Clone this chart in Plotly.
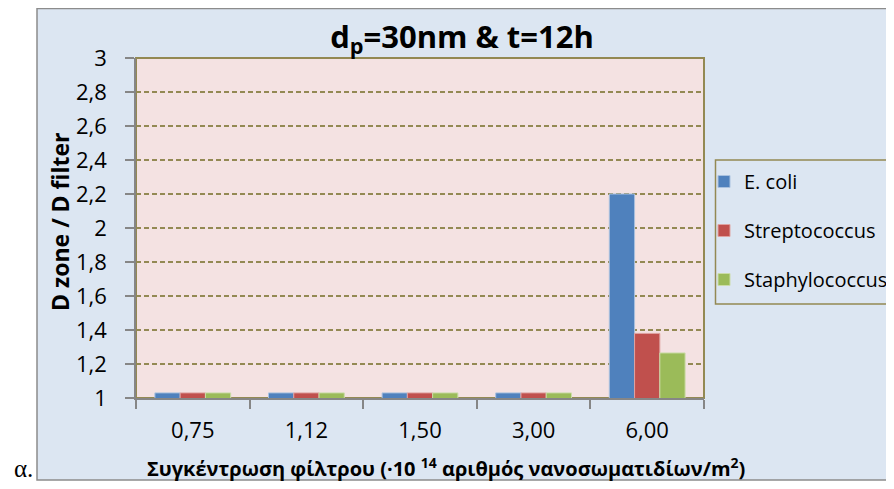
import plotly.graph_objects as go

categories = ["0,75", "1,12", "1,50", "3,00", "6,00"]
ecoli = [1.03, 1.03, 1.03, 1.03, 2.2]
strepto = [1.03, 1.03, 1.03, 1.03, 1.38]
staphylo = [1.03, 1.03, 1.03, 1.03, 1.265]
y_ticks = [1, 1.2, 1.4, 1.6, 1.8, 2, 2.2, 2.4, 2.6, 2.8, 3]

OFF = 8  # default body margin of the html page
W, H = 894 - OFF, 489 - 2 * OFF
# plot area in page px
L, R, T, B = 136, 704, 58, 398
pw, ph = R - L, B - T
ml, mt = L - OFF, T - OFF

def px(x):
    return (x - L) / pw

def py(y):
    return (B - y) / ph

FONT = "'Open Sans', Lato, sans-serif"
OLIVE = "#938953"
GRAY = "#868686"
CHART_BG = "#dce6f2"
PLOT_BG = "#f4e2e2"

series = [
    ("E. coli", ecoli, "#4f81bd", "#a9c1df"),
    ("Streptococcus", strepto, "#c0504d", "#dfa3a1"),
    ("Staphylococcus", staphylo, "#9bbb59", "#cbdca8"),
]

fig = go.Figure()
for name, vals, col, lcol in series:
    fig.add_trace(go.Bar(
        x=categories, y=vals, name=name, legendgroup=name,
        marker=dict(color=col, line=dict(color=lcol, width=1)),
    ))

fig.update_layout(
    width=W, height=H,
    margin=dict(l=ml, r=W - ml - pw, t=mt, b=H - mt - ph, pad=0, autoexpand=False),
    paper_bgcolor="white",
    plot_bgcolor="rgba(0,0,0,0)",
    separators=",.",
    barmode="group", bargap=0.333, bargroupgap=0,
    font=dict(family=FONT, color="black"),
    title=dict(
        text="<b>d<sub>p</sub>=30nm &amp; t=12h</b>",
        x=(462 - OFF) / W, xref="container", xanchor="center",
        y=1 - (37 - OFF) / H, yref="container", yanchor="middle",
        font=dict(size=31, family=FONT, color="black"),
    ),
    showlegend=True,
    legend=dict(
        x=px(704), xanchor="left", y=py(162), yanchor="top",
        bgcolor="rgba(0,0,0,0)", borderwidth=0,
        font=dict(size=20, family=FONT, color="black"),
        traceorder="grouped", tracegroupgap=20,
        itemclick=False,
    ),
    xaxis=dict(
        type="category", showgrid=False, showline=True, linecolor=GRAY, linewidth=1.5,
        ticks="outside", tickson="boundaries", ticklen=9, tickwidth=1.5, tickcolor=GRAY,
        tickfont=dict(size=22, family=FONT, color="black"), ticklabelstandoff=12,
        zeroline=False,
    ),
    yaxis=dict(
        range=[1, 3], tickvals=y_ticks, showgrid=True, gridcolor=OLIVE, gridwidth=1.5,
        griddash="5px,3px", showline=True, linecolor=GRAY, linewidth=1.5,
        ticks="outside", ticklen=9, tickwidth=1.5, tickcolor=GRAY,
        tickfont=dict(size=22, family=FONT, color="black"), ticklabelstandoff=14,
        zeroline=False,
    ),
    shapes=[
        # chart area
        dict(type="rect", xref="paper", yref="paper", layer="below",
             x0=px(37), x1=px(910), y0=py(480), y1=py(8.5),
             fillcolor=CHART_BG, line=dict(color="#8c8c8c", width=1.5)),
        # plot area
        dict(type="rect", xref="paper", yref="paper", layer="below",
             x0=0, x1=1, y0=0, y1=1,
             fillcolor=PLOT_BG, line=dict(color=OLIVE, width=2)),
        # legend frame
        dict(type="rect", xref="paper", yref="paper", layer="below",
             x0=px(715.5), x1=px(910), y0=py(304), y1=py(160),
             fillcolor=CHART_BG, line=dict(color=OLIVE, width=1.5)),
    ],
    annotations=[
        dict(text="<b>D zone / D filter</b>", xref="paper", yref="paper",
             x=px(60), y=py(222), textangle=-90, showarrow=False,
             xanchor="center", yanchor="middle",
             font=dict(size=23, family=FONT, color="black")),
        dict(text="<b>Συγκέντρωση φίλτρου (·10 <sup>14</sup> αριθμός νανοσωματιδίων/m<sup>2</sup>)</b>",
             xref="paper", yref="paper", x=px(446), y=py(467), showarrow=False,
             xanchor="center", yanchor="middle",
             font=dict(size=20, family=FONT, color="black")),
        dict(text="α.", xref="paper", yref="paper", x=px(23), y=py(468), showarrow=False,
             xanchor="center", yanchor="middle", borderpad=0,
             font=dict(size=25, family="'Liberation Serif', serif", color="black")),
    ],
)

fig.write_html("out.html")
